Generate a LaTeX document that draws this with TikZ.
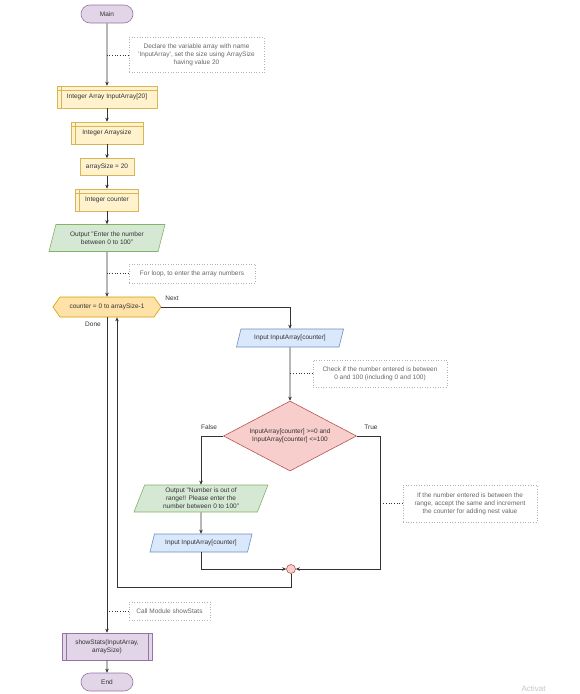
\documentclass[tikz,border=0pt]{standalone}
\usepackage{fontspec}
\setmainfont{Liberation Sans}
\usetikzlibrary{shapes.geometric,shapes.symbols,shapes.misc,arrows.meta,positioning}
\definecolor{termfill}{HTML}{E1D5E7}
\definecolor{termline}{HTML}{9673A6}
\definecolor{declfill}{HTML}{FFF2CC}
\definecolor{declline}{HTML}{D6B656}
\definecolor{outfill}{HTML}{D5E8D4}
\definecolor{outline}{HTML}{82B366}
\definecolor{infill}{HTML}{DAE8FC}
\definecolor{inline}{HTML}{6C8EBF}
\definecolor{loopfill}{HTML}{FFE2A8}
\definecolor{loopline}{HTML}{D79B00}
\definecolor{condfill}{HTML}{F8CECC}
\definecolor{condline}{HTML}{B85450}
\definecolor{notetext}{HTML}{666666}
\definecolor{wire}{HTML}{333333}

\tikzset{
  base/.style={draw, line width=0.6pt, inner sep=1pt, align=center, text=wire,
    font=\fontsize{6.5}{8}\selectfont},
  terminal/.style={base, rounded rectangle, fill=termfill, draw=termline,
    minimum width=54pt, minimum height=18pt},
  storage/.style={base, rectangle, fill=declfill, draw=declline, minimum height=22pt,
    path picture={\draw[declline, line width=0.6pt]
      ([xshift=4pt]path picture bounding box.north west) -- ([xshift=4pt]path picture bounding box.south west)
      ([yshift=-4pt]path picture bounding box.north west) -- ([yshift=-4pt]path picture bounding box.north east);}},
  process/.style={base, rectangle, fill=declfill, draw=declline},
  output/.style={base, trapezium, trapezium left angle=65, trapezium right angle=115,
    trapezium stretches body, fill=outfill, draw=outline, minimum height=27pt},
  input/.style={base, trapezium, trapezium left angle=61, trapezium right angle=119,
    trapezium stretches body, fill=infill, draw=inline, minimum height=18pt},
  loop/.style={base, signal, signal to=west and east, signal pointer angle=110,
    fill=loopfill, draw=loopline, minimum width=108pt, minimum height=20pt},
  cond/.style={base, diamond, aspect=1.9, inner sep=0pt, fill=condfill, draw=condline,
    minimum width=133pt, minimum height=70pt},
  merge/.style={base, circle, inner sep=0pt, fill=condfill, draw=condline, minimum size=9pt},
  module/.style={base, rectangle, fill=termfill, draw=termline,
    path picture={\draw[termline, line width=0.6pt]
      ([xshift=4pt]path picture bounding box.north west) -- ([xshift=4pt]path picture bounding box.south west)
      ([xshift=-4pt]path picture bounding box.north east) -- ([xshift=-4pt]path picture bounding box.south east);}},
  note/.style={draw=gray!60, dotted, line width=0.6pt, align=center, text=notetext, inner sep=1pt,
    font=\fontsize{6.5}{8}\selectfont},
  tag/.style={text=wire, font=\fontsize{6.5}{8}\selectfont},
  arrow/.style={draw=wire, line width=0.8pt, -{Stealth[length=4pt,width=3.5pt]}},
  link/.style={draw=wire, dotted, line width=0.7pt}
}

\begin{document}
\begin{tikzpicture}[x=1pt, y=-1pt]
  \useasboundingbox (0,0) rectangle (580,694);
  % main column
  \node[terminal] (main) at (107,14) {Main};
  \node[note, minimum width=135pt, minimum height=35pt] (note1) at (196.5,55)
    {Declare the variable array with name\\'InputArray', set the size using ArraySize\\having value 20};
  \node[storage, minimum width=100pt] (decl1) at (107,97) {Integer Array InputArray[20]};
  \node[storage, minimum width=72pt] (decl2) at (107,133) {Integer Arraysize};
  \node[process, minimum width=54pt, minimum height=17pt] (assign) at (107,167) {arraySize = 20};
  \node[storage, minimum width=63pt] (decl3) at (107,200) {Integer counter};
  \node[output, minimum width=116pt] (prompt) at (107,238) {Output "Enter the number\\between 0 to 100"};
  \node[note, minimum width=126pt, minimum height=19pt] (note2) at (192,273.5) {For loop, to enter the array numbers};
  \node[loop] (loop) at (107,307) {counter = 0 to arraySize-1};
  \node[tag] (next) at (172,298) {Next};
  \node[tag] (done) at (93,324) {Done};

  % loop body
  \node[input, minimum width=107pt] (read1) at (290,338) {Input InputArray[counter]};
  \node[note, minimum width=134pt, minimum height=27pt] (note3) at (380,373.5)
    {Check if the number entered is between\\0 and 100 (including 0 and 100)};
  \node[cond] (check) at (290,436) {InputArray[counter] >=0 and\\InputArray[counter] <=100};
  \node[tag] (false) at (209,427) {False};
  \node[tag] (true) at (371,427) {True};
  \node[output, minimum width=134pt] (warn) at (201,498.5)
    {Output "Number is out of\\range!! Please enter the\\number between 0 to 100"};
  \node[input, minimum width=102pt] (read2) at (201,543) {Input InputArray[counter]};
  \node[merge] (join) at (291,569) {};
  \node[note, minimum width=134pt, minimum height=37pt] (note4) at (470,503.5)
    {If the number entered is between the\\range, accept the same and increment\\the counter for adding nest value};
  \coordinate (trueturn) at (380,436);
  \coordinate (backleft) at (117,587);

  % after the loop
  \node[note, minimum width=81pt, minimum height=18pt] (note5) at (169.5,611) {Call Module showStats};
  \node[module, minimum width=90pt, minimum height=27pt] (call) at (107,646.5) {showStats(InputArray,\\arraySize)};
  \node[terminal] (end) at (107,682) {End};
  \node[text=gray!45, font=\fontsize{8}{8}\selectfont, anchor=base west] (mark) at (518,691.5) {Activat};

  % connectors
  \draw[arrow] (main) -- (decl1);
  \draw[arrow] (decl1) -- (decl2);
  \draw[arrow] (decl2) -- (assign);
  \draw[arrow] (assign) -- (decl3);
  \draw[arrow] (decl3) -- (prompt);
  \draw[arrow] (prompt) -- (loop);
  \draw[arrow] (loop.east) -| (read1.north);
  \draw[arrow] (read1) -- (check);
  \draw[arrow] (check.west) -| (warn.north);
  \draw[arrow] (warn) -- (read2);
  \draw[arrow] (read2.south) |- (join.west);
  \draw[arrow] (check.east) -- (trueturn) |- (join.east);
  \draw[arrow] (join.south) |- (backleft) -- (backleft |- loop.south);
  \draw[arrow] (loop.south) -- (call.north);
  \draw[arrow] (call) -- (end);

  % comment links
  \draw[link] (note1.west) -- (note1.west -| main);
  \draw[link] (note2.west) -- (note2.west -| loop);
  \draw[link] (note3.west) -- (note3.west -| read1);
  \draw[link] (note4.west) -- (note4.west -| trueturn);
  \draw[link] (note5.west) -- (note5.west -| call);
\end{tikzpicture}
\end{document}
